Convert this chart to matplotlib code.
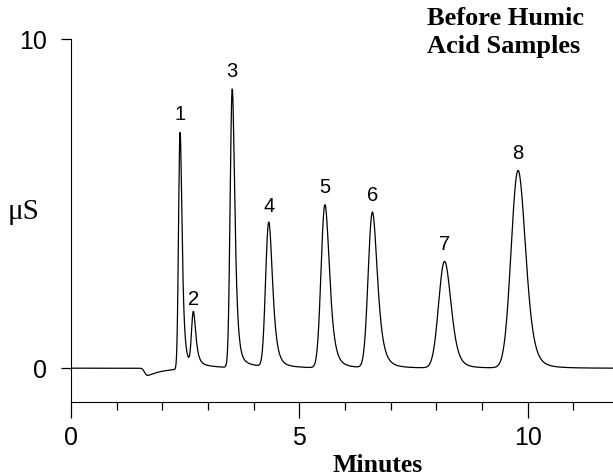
import numpy as np
import matplotlib
matplotlib.use("Agg")
import matplotlib.pyplot as plt
from matplotlib.ticker import MultipleLocator

# peak table: apex time (min), apex height (uS), gaussian sigma, exponential tail tau
peak_ids = ["1", "2", "3", "4", "5", "6", "7", "8"]
peak_rt = [2.39, 2.68, 3.53, 4.33, 5.56, 6.60, 8.18, 9.79]
peak_height = [7.2, 1.6, 8.5, 4.42, 4.98, 4.75, 3.25, 6.02]
peak_sigma = [0.028, 0.033, 0.038, 0.058, 0.072, 0.078, 0.115, 0.135]
peak_tau = [0.04, 0.05, 0.05, 0.07, 0.08, 0.09, 0.09, 0.10]
tail_frac = 0.035   # slow-decaying part of each peak's tail
tail_tau = 0.35

# system (water) dip just before the first peak
dip_rt = 1.68
dip_depth = -0.22
dip_sigma = 0.04
dip_tau = 0.35

t = np.linspace(0, 11.9, 6000)
dt_step = t[1] - t[0]


def emg(center, height, sigma, tau):
    # gaussian convolved with an exponential tail, scaled so the apex sits at center
    g = np.exp(-0.5 * ((t - t[len(t) // 2]) / sigma) ** 2)
    k = np.exp(-np.arange(0, 8 * tau, dt_step) / tau)
    y = np.convolve(g, k)[:len(t)]
    y = y / y.max()
    shift = int(round((center - t[np.argmax(y)]) / dt_step))
    y = np.roll(y, shift)
    if shift > 0:
        y[:shift] = 0
    return height * y


signal = np.zeros_like(t)
for rt, h, s, tau in zip(peak_rt, peak_height, peak_sigma, peak_tau):
    signal += emg(rt, h * (1 - tail_frac), s, tau)
    signal += emg(rt + tau, h * tail_frac, s * 1.5, tail_tau)
dip = emg(dip_rt, 1.0, dip_sigma, dip_tau)
dip[t > 2.3] *= np.exp(-(t[t > 2.3] - 2.3) / 0.1)
signal += dip_depth * dip

fig = plt.figure(figsize=(6.13, 4.76), dpi=100)
ax = fig.add_axes([0.1158, 0.156, 0.8842, 0.762])
ax.plot(t, signal, color="black", lw=0.9)

ax.set_xlim(0, 11.87)
ax.set_ylim(-1.02, 10)
ax.spines["top"].set_visible(False)
ax.spines["right"].set_visible(False)
ax.spines["left"].set_bounds(-1.02, 10)

ax.xaxis.set_major_locator(MultipleLocator(5))
ax.xaxis.set_minor_locator(MultipleLocator(1))
ax.set_yticks([0, 10])
ax.tick_params(axis="x", which="major", length=11.5, width=0.9, pad=6, labelsize=18)
ax.tick_params(axis="x", which="minor", length=5.5, width=0.9)
ax.tick_params(axis="y", length=7.5, width=0.9, pad=10, labelsize=18)
for lab in ax.get_xticklabels() + ax.get_yticklabels():
    lab.set_family("Liberation Sans")

for pid, rt, h in zip(peak_ids, peak_rt, peak_height):
    ax.annotate(pid, (rt, h), xytext=(0, 5), textcoords="offset points",
                ha="center", va="bottom", fontsize=14.5, family="Liberation Sans")

fig.text(8 / 613, 1 - 212 / 476, "\u03bcS", fontsize=21, family="Liberation Serif",
         ha="left", va="center")
fig.text(378 / 613, 1 - 465 / 476, "Minutes", fontsize=18.5, family="Liberation Serif",
         weight="bold", ha="center", va="center")
fig.text(427 / 613, 1 - 7 / 476, "Before Humic\nAcid Samples", fontsize=19,
         family="Liberation Serif", weight="bold", ha="left", va="top", linespacing=1.3)

fig.savefig("out.png", dpi=100)
